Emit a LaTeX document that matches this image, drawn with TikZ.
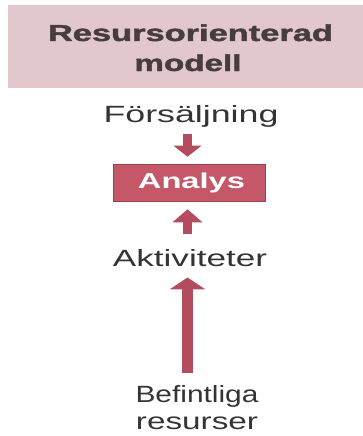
\documentclass[tikz,border=0pt]{standalone}
\usepackage{fontspec}
\setmainfont{Liberation Sans}
\newfontfamily\heavyfont[FakeBold=1.6]{Liberation Sans Bold}
\usetikzlibrary{arrows.meta}

\definecolor{bandpink}{RGB}{226,199,204}
\definecolor{boxred}{RGB}{196,88,104}
\definecolor{boxedge}{RGB}{160,64,80}
\definecolor{arrowred}{RGB}{178,76,94}
\definecolor{inkgray}{RGB}{52,52,52}
\definecolor{titlegray}{RGB}{70,62,62}

% set a word to a given width, keeping its height
\newcommand{\setwidth}[2]{\resizebox{#1}{\height}{#2}}

\begin{document}
\begin{tikzpicture}[x=1pt,y=-1pt,
  titletext/.style={inner sep=0pt, anchor=base, text=titlegray,
    font=\fontsize{23}{27}\heavyfont},
  steplabel/.style={inner sep=0pt, anchor=base, text=inkgray,
    font=\fontsize{23.5}{28}\selectfont},
  analysbox/.style={rectangle, fill=boxred, draw=boxedge, line width=0.6pt,
    minimum width=152pt, minimum height=37pt, inner sep=0pt, text=white,
    font=\fontsize{21.5}{25}\selectfont\bfseries},
  blockarrow/.style n args={3}{draw=arrowred, line width=#1, line cap=butt,
    -{Triangle[width=#2, length=#3, line width=0pt, fill=arrowred]}}]

\useasboundingbox (0,0) rectangle (363,436);

% heading band
\node[fill=bandpink, inner sep=0pt, minimum width=355pt, minimum height=83pt]
  (band) at (185.5,46.5) {};
\node[titletext] (title1) at (190.5,41) {\setwidth{285pt}{Resursorienterad}};
\node[titletext] (title2) at (188,71) {\setwidth{107pt}{modell}};

% the chain of steps
\node[steplabel] (fors) at (191,122) {\setwidth{175pt}{Försäljning}};
\node[analysbox] (analys) at (189,182.5) {\hspace*{5pt}\setwidth{107pt}{Analys}};
\node[steplabel] (akt) at (190,266) {\setwidth{154pt}{Aktiviteter}};
\node[steplabel] (bef) at (197,402) {\setwidth{123pt}{Befintliga}};
\node[steplabel] (res) at (197,429) {\setwidth{122pt}{resurser}};

\coordinate (spine) at (187.5,0);

\draw[blockarrow={9pt}{28pt}{11pt}, shorten <=7pt, shorten >=7pt]
  (spine |- fors.south) -- (spine |- analys.north);
\draw[blockarrow={9pt}{30pt}{13pt}, shorten <=14.8pt, shorten >=8pt]
  (spine |- akt.north) -- (spine |- analys.south);
\draw[blockarrow={11pt}{36pt}{12pt}, shorten <=11.8pt, shorten >=11pt]
  (spine |- bef.north) -- (spine |- akt.south);

\end{tikzpicture}
\end{document}
